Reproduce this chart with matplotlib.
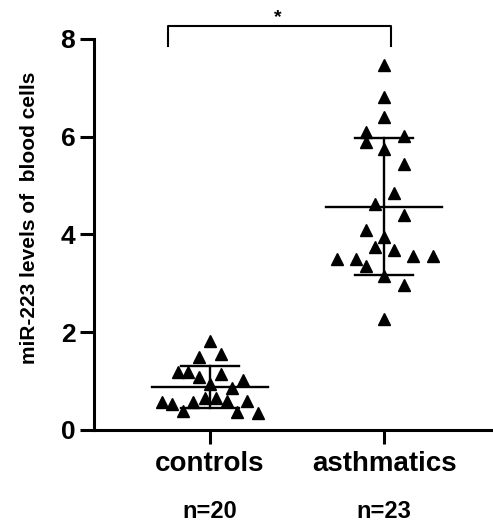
import numpy as np
import matplotlib
matplotlib.use("Agg")
import matplotlib.pyplot as plt

# values
groups = ["controls", "asthmatics"]
n_labels = ["n=20", "n=23"]
controls = [1.83, 1.50, 1.55, 1.19, 1.19, 1.09, 1.14, 1.02, 0.95, 0.85,
            0.58, 0.54, 0.58, 0.65, 0.65, 0.59, 0.59, 0.39, 0.37, 0.35]
asthmatics = [7.46, 6.82, 6.41, 6.10, 5.90, 6.01, 5.74, 5.45, 4.85, 4.62,
              4.40, 4.10, 3.95, 3.74, 3.68, 3.49, 3.49, 3.35, 3.56, 3.56,
              3.15, 2.96, 2.28]
# horizontal scatter of the points (beeswarm layout), in group units
controls_jitter = [0, -0.061, 0.061, -0.182, -0.125, -0.061, 0.061, 0.188, 0, 0.125,
                   -0.278, -0.220, -0.096, -0.029, 0.034, 0.096, 0.214, -0.157, 0.153, 0.278]
asthmatics_jitter = [0, 0, 0, -0.105, -0.105, 0.115, 0, 0.115, 0.059, -0.052,
                     0.115, -0.105, 0, -0.052, 0.059, -0.268, -0.163, -0.105, 0.168, 0.280,
                     0, 0.115, 0]
y_ticks = [0, 2, 4, 6, 8]

plt.rcParams["font.family"] = ["Liberation Sans", "DejaVu Sans"]
plt.rcParams["font.weight"] = "bold"

fig = plt.figure(figsize=(4.93, 5.25), dpi=100)
ax = fig.add_axes([0.1907, 0.181, 0.8093, 0.7448])

for i, (vals, jit) in enumerate([(controls, controls_jitter), (asthmatics, asthmatics_jitter)]):
    vals = np.array(vals)
    xs = i + np.array(jit)
    ax.plot(xs, vals, linestyle="none", marker="^", markersize=9.3,
            color="black", clip_on=False, zorder=3)
    mean = vals.mean()
    sd = vals.std(ddof=1)
    # mean line and SD whiskers
    ax.plot([i - 0.333, i + 0.333], [mean, mean], color="black", lw=1.7, zorder=4)
    ax.plot([i, i], [mean - sd, mean + sd], color="black", lw=1.7, zorder=4)
    for y in (mean - sd, mean + sd):
        ax.plot([i - 0.168, i + 0.168], [y, y], color="black", lw=1.7, zorder=4)

ax.set_xlim(-0.667, 1.626)
ax.set_ylim(0, 8)
ax.set_yticks(y_ticks)
ax.set_xticks(range(len(groups)))
ax.set_xticklabels(groups, fontsize=20, fontweight="bold")
ax.tick_params(axis="y", labelsize=19, length=10, width=2.2, pad=3.5)
ax.tick_params(axis="x", length=10, width=2.2, pad=5)
for lab in ax.get_yticklabels():
    lab.set_fontweight("bold")

for side in ["top", "right"]:
    ax.spines[side].set_visible(False)
for side in ["left", "bottom"]:
    ax.spines[side].set_linewidth(2.2)

ax.set_ylabel("miR-223 levels of  blood cells", fontsize=15, fontweight="bold")
ax.yaxis.set_label_coords(-0.138, 0.543)

# group sizes under the tick labels
for i, lab in enumerate(n_labels):
    ax.text(i, -0.209, lab, transform=ax.get_xaxis_transform(),
            ha="center", va="center", fontsize=17, fontweight="bold")

# significance bracket
ax.plot([-0.241, -0.241, 1.038, 1.038], [7.85, 8.26, 8.26, 7.85],
        color="black", lw=1.5, clip_on=False)
ax.text(0.389, 8.35, "*", ha="center", va="baseline", fontsize=14,
        fontweight="bold", clip_on=False)

fig.savefig("out.png", dpi=100)
